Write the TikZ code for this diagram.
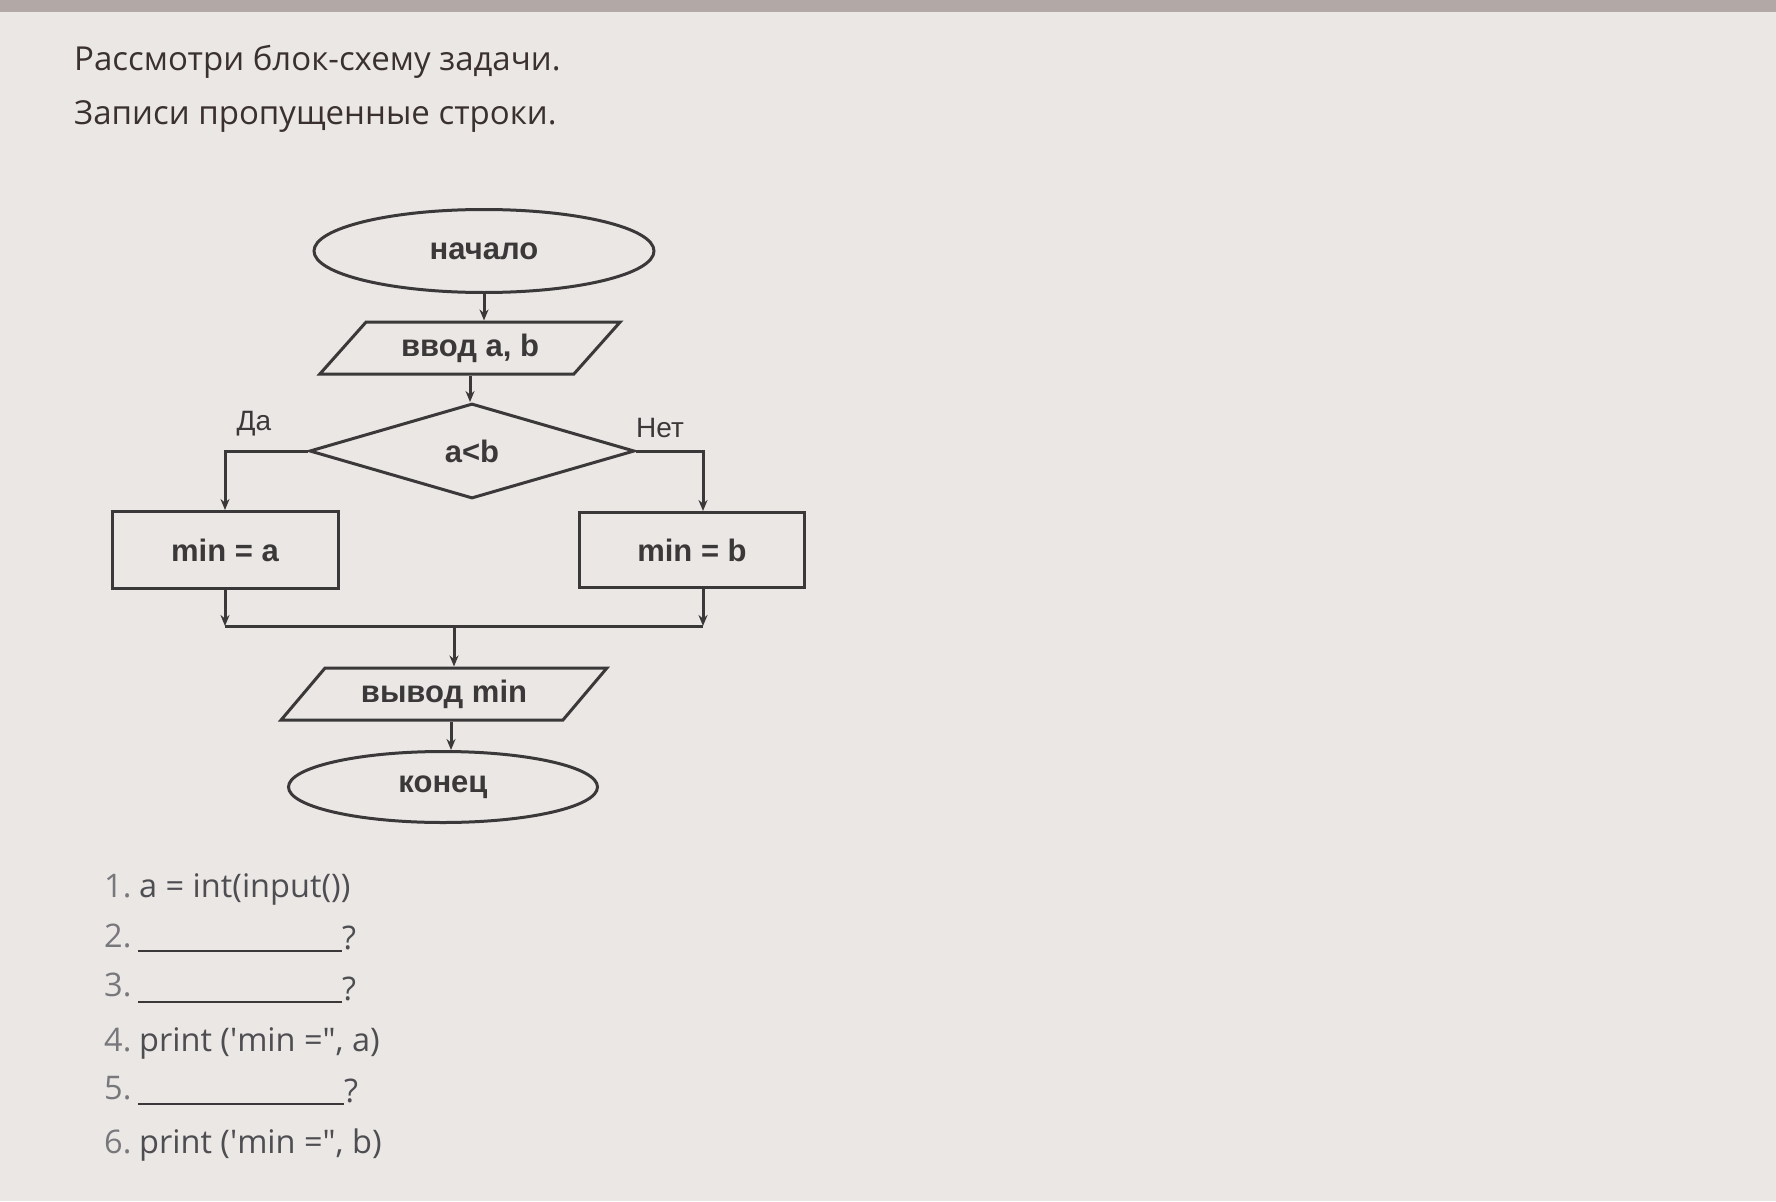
\documentclass[tikz,border=0pt]{standalone}
\usepackage{fontspec}
\setmainfont{Open Sans}
\newfontfamily\blockfont{Liberation Sans}
\usetikzlibrary{arrows.meta,shapes.geometric,positioning}
\definecolor{paper}{RGB}{234,231,229}
\definecolor{band}{RGB}{178,168,166}
\definecolor{ink}{RGB}{58,56,56}
\definecolor{headink}{RGB}{58,48,48}
\definecolor{listink}{RGB}{78,78,82}
\definecolor{numgray}{RGB}{120,120,124}
\tikzset{
  io/.style={trapezium, trapezium left angle=43, trapezium right angle=137, trapezium stretches=true, minimum height=52pt},
  flow/.style={draw=ink, line width=3pt, -{Stealth[length=11pt, width=9pt]}},
  joint/.style={draw=ink, line width=3pt}
}

\begin{document}
\begin{tikzpicture}[x=1pt, y=1pt]
      \fill[paper] (0,0) rectangle (1776,-1201);
      \fill[band] (0,0) rectangle (1776,-12);
      \useasboundingbox (0,0) rectangle (1776,-1201);
      \begin{scope}[every node/.style={anchor=west, inner sep=0pt, text=headink, font=\fontsize{33}{39}\selectfont}]
        \node (T1) at (74,-62) {Рассмотри блок-схему задачи.};
        \node (T2) at (74,-117) {Записи пропущенные строки.};
      \end{scope}
      \begin{scope}[every node/.style={draw=ink, line width=3pt, text=ink, inner sep=0pt, font=\blockfont\bfseries\fontsize{31}{37}\selectfont}]
        \node (Start)[ellipse, minimum width=340pt, minimum height=83pt] at (484,-251) {начало};
        \node (In)[io, minimum width=301pt] at (470,-348) {ввод a, b};
        \node (Cond)[diamond, minimum width=325pt, minimum height=95pt] at (472,-451) {a<b};
        \node (MinA)[rectangle, minimum width=226pt, minimum height=77pt] at (225,-550) {min = a};
        \node (MinB)[rectangle, minimum width=225pt, minimum height=75pt] at (692,-550) {min = b};
        \node (Out)[io, minimum width=327pt] at (444,-694) {вывод min};
        \node (Finish)[ellipse, minimum width=309pt, minimum height=71pt] at (443,-787) {конец};
      \end{scope}
      \begin{scope}[every node/.style={text=ink, font=\blockfont\fontsize{28}{32}\selectfont}]
        \node (Yes) at (254,-424) {Да};
        \node (No) at (660,-428) {Нет};
      \end{scope}
      \coordinate (J) at (454,-626);
      \begin{scope}
        \draw[flow] (Start.south) -- (Start.south |- In.north);
        \draw[flow] (In.south) -- (In.south |- Cond.north);
        \draw[flow] (Cond.west) -| (MinA.north);
        \draw[flow] (Cond.east) -| ([xshift=11pt]MinB.north);
        \draw[flow] (MinA.south) -- (MinA.south |- J);
        \draw[flow] ([xshift=11pt]MinB.south) -- ([xshift=11pt]MinB.south |- J);
        \draw[joint] (MinA.south |- J) -- ([xshift=11pt]MinB.south |- J);
        \draw[flow] (J) -- (J |- Out.north);
        \draw[flow] ([xshift=7pt]Out.south) -- ([xshift=7pt]Out.south |- Finish.north);
      \end{scope}
      \begin{scope}[every node/.style={anchor=base west, inner sep=0pt, text=listink, font=\fontsize{32.5}{38}\selectfont}]
        \node (N1)[text=numgray] at (104,-897) {1.};
        \node (L1) at (139,-897) {a = int(input())};
        \node (N2)[text=numgray] at (104,-947) {2.};
        \node (Q2) at (342,-949) {?};
        \node (N3)[text=numgray] at (104,-996) {3.};
        \node (Q3) at (342,-1000) {?};
        \node (N4)[text=numgray] at (104,-1051) {4.};
        \node (L4) at (139,-1051) {print (\textquotesingle min =\textquotedbl, a)};
        \node (N5)[text=numgray] at (104,-1099) {5.};
        \node (Q5) at (344,-1102) {?};
        \node (N6)[text=numgray] at (104,-1153) {6.};
        \node (L6) at (139,-1153) {print (\textquotesingle min =\textquotedbl, b)};
      \end{scope}
      \draw[joint, line width=2pt] (138,-951) -- (Q2.base west |- 0,-951);
      \draw[joint, line width=2pt] (138,-1002) -- (Q3.base west |- 0,-1002);
      \draw[joint, line width=2pt] (138,-1104) -- (Q5.base west |- 0,-1104);
    \end{tikzpicture}
\end{document}
